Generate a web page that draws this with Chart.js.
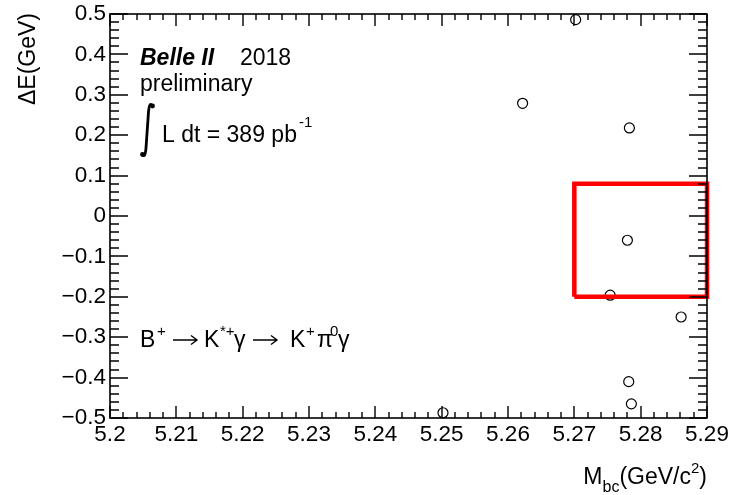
<!DOCTYPE html>
<html>
<head>
<meta charset="utf-8">
<script src="https://cdn.jsdelivr.net/npm/chart.js@4.4.0/dist/chart.umd.min.js"></script>
<style>
html, body { margin: 0; padding: 0; background: #fff; }
#wrap { width: 733px; height: 495px; }
</style>
</head>
<body>
<div id="wrap"><canvas id="chart" width="733" height="495"></canvas></div>
<script>
// candidate events: Mbc vs deltaE
const mbcValues = [5.2702, 5.2622, 5.2783, 5.2780, 5.2754, 5.2861, 5.2782, 5.2786, 5.2502];
const deltaEValues = [0.486, 0.279, 0.218, -0.060, -0.196, -0.250, -0.410, -0.465, -0.487];

// signal box corners
const boxX = [5.27, 5.27, 5.29, 5.29, 5.27];
const boxY = [-0.2, 0.08, 0.08, -0.2, -0.2];

// axis ticks
const xTicks = [5.2, 5.21, 5.22, 5.23, 5.24, 5.25, 5.26, 5.27, 5.28, 5.29];
const xTickLabels = ['5.2', '5.21', '5.22', '5.23', '5.24', '5.25', '5.26', '5.27', '5.28', '5.29'];
const yTicks = [-0.5, -0.4, -0.3, -0.2, -0.1, 0, 0.1, 0.2, 0.3, 0.4, 0.5];
const yTickLabels = ['\u22120.5', '\u22120.4', '\u22120.3', '\u22120.2', '\u22120.1', '0', '0.1', '0.2', '0.3', '0.4', '0.5'];

const FONT = '"Liberation Sans", Arial, Helvetica, sans-serif';
Chart.defaults.font.family = FONT;
Chart.defaults.color = '#000';

function drawParts(ctx, parts, baseline) {
    parts.forEach(p => {
        ctx.font = (p.style || '') + ' ' + p.size + 'px ' + FONT;
        ctx.fillText(p.t, p.x, baseline + (p.dy || 0));
    });
}

function drawArrow(ctx, x1, x2, y) {
    ctx.save();
    ctx.lineWidth = 1.4;
    ctx.lineCap = 'butt';
    ctx.beginPath();
    ctx.moveTo(x1, y);
    ctx.lineTo(x2, y);
    ctx.moveTo(x2 - 6, y - 4.5);
    ctx.lineTo(x2, y);
    ctx.lineTo(x2 - 6, y + 4.5);
    ctx.stroke();
    ctx.restore();
}

// ROOT-like frame, inward ticks and the text labels
const framePlugin = {
    id: 'rootFrame',
    afterDatasetsDraw(chart) {
        const ctx = chart.ctx;
        const a = chart.chartArea;
        const xs = chart.scales.x;
        const ys = chart.scales.y;
        ctx.save();
        ctx.strokeStyle = '#000';
        ctx.lineWidth = 1.6;
        ctx.strokeRect(a.left, a.top, a.right - a.left, a.bottom - a.top);

        ctx.lineWidth = 1.4;
        ctx.beginPath();
        for (let i = 0; i <= 45; i++) {
            const v = 5.2 + i * 0.002;
            const px = Math.round(xs.getPixelForValue(v));
            const len = (i % 5 === 0) ? 12 : 6;
            ctx.moveTo(px, a.bottom);
            ctx.lineTo(px, a.bottom - len);
            ctx.moveTo(px, a.top);
            ctx.lineTo(px, a.top + len);
        }
        for (let i = 0; i <= 50; i++) {
            const v = -0.5 + i * 0.02;
            const py = Math.round(ys.getPixelForValue(v));
            const len = (i % 5 === 0) ? 18 : 9;
            ctx.moveTo(a.left, py);
            ctx.lineTo(a.left + len, py);
            ctx.moveTo(a.right, py);
            ctx.lineTo(a.right - len, py);
        }
        ctx.stroke();

        ctx.fillStyle = '#000';
        ctx.textAlign = 'left';
        ctx.textBaseline = 'alphabetic';

        // Belle II label
        drawParts(ctx, [
            { t: 'Belle II', x: 140, size: 23, style: 'italic bold' },
            { t: '2018', x: 240, size: 23 }
        ], 65);
        drawParts(ctx, [{ t: 'preliminary', x: 140, size: 23 }], 91);

        // integral sign
        ctx.lineWidth = 2.8;
        ctx.lineCap = 'round';
        ctx.beginPath();
        ctx.moveTo(152.5, 106);
        ctx.quadraticCurveTo(149.5, 101, 148.5, 112);
        ctx.lineTo(146, 148);
        ctx.quadraticCurveTo(145, 159, 142.5, 154);
        ctx.stroke();
        ctx.beginPath();
        ctx.arc(152.5, 106, 2.4, 0, Math.PI * 2);
        ctx.fill();
        ctx.beginPath();
        ctx.arc(142.5, 154.5, 2.4, 0, Math.PI * 2);
        ctx.fill();
        drawParts(ctx, [
            { t: 'L dt = 389 pb', x: 162, size: 23 },
            { t: '-1', x: 299, size: 15, dy: -15 }
        ], 142);

        // decay chain
        drawParts(ctx, [
            { t: 'B', x: 140, size: 23 },
            { t: '+', x: 157, size: 15, dy: -11 },
            { t: 'K', x: 204, size: 23 },
            { t: '*+', x: 220, size: 15, dy: -11 },
            { t: '\u03b3', x: 234, size: 23 },
            { t: 'K', x: 290, size: 23 },
            { t: '+', x: 306, size: 15, dy: -11 },
            { t: '\u03c0', x: 317, size: 23 },
            { t: '0', x: 330, size: 15, dy: -11 },
            { t: '\u03b3', x: 338, size: 23 }
        ], 347);
        drawArrow(ctx, 173, 197, 340);
        drawArrow(ctx, 253, 277, 340);

        // x title, right aligned
        ctx.font = '23px ' + FONT;
        const wM = ctx.measureText('M').width;
        const wG = ctx.measureText('(GeV/c').width;
        const wp = ctx.measureText(')').width;
        ctx.font = '16px ' + FONT;
        const wbc = ctx.measureText('bc').width;
        ctx.font = '15px ' + FONT;
        const w2 = ctx.measureText('2').width;
        const tx = 707 - (wM + wbc + wG + w2 + wp);
        drawParts(ctx, [
            { t: 'M', x: tx, size: 23 },
            { t: 'bc', x: tx + wM, size: 16, dy: 8 },
            { t: '(GeV/c', x: tx + wM + wbc, size: 23 },
            { t: '2', x: tx + wM + wbc + wG, size: 15, dy: -11 },
            { t: ')', x: tx + wM + wbc + wG + w2, size: 23 }
        ], 484);

        // y title, rotated, aligned to top
        ctx.translate(35, 13);
        ctx.rotate(-Math.PI / 2);
        ctx.textAlign = 'right';
        ctx.font = '23px ' + FONT;
        ctx.fillText('\u0394E(GeV)', 0, 0);
        ctx.restore();
    }
};

const points = mbcValues.map((x, i) => ({ x: x, y: deltaEValues[i] }));
const boxPoints = boxX.map((x, i) => ({ x: x, y: boxY[i] }));

new Chart(document.getElementById('chart'), {
    type: 'scatter',
    data: {
        datasets: [
            {
                label: 'signal box',
                type: 'line',
                data: boxPoints,
                borderColor: '#ff0000',
                borderWidth: 4.5,
                borderJoinStyle: 'miter',
                pointRadius: 0,
                fill: false,
                tension: 0,
                clip: false
            },
            {
                label: 'candidates',
                data: points,
                pointStyle: 'circle',
                pointRadius: 5,
                pointBorderWidth: 1.2,
                pointBorderColor: '#000',
                pointBackgroundColor: 'rgba(0,0,0,0)',
                clip: false
            }
        ]
    },
    options: {
        responsive: false,
        animation: false,
        devicePixelRatio: 1,
        layout: { padding: { top: 14, right: 26, left: 0, bottom: 0 } },
        plugins: { legend: { display: false }, tooltip: { enabled: false } },
        scales: {
            x: {
                type: 'linear',
                min: 5.2,
                max: 5.29,
                grid: { display: false, drawTicks: false },
                border: { display: false },
                afterBuildTicks: s => { s.ticks = xTicks.map(v => ({ value: v })); },
                afterFit: s => { s.height = 77; },
                ticks: {
                    autoSkip: false,
                    maxRotation: 0,
                    padding: 3,
                    font: { size: 22.5 },
                    color: '#000',
                    callback: (v) => {
                        const i = xTicks.findIndex(t => Math.abs(t - v) < 1e-6);
                        return i >= 0 ? xTickLabels[i] : '';
                    }
                }
            },
            y: {
                type: 'linear',
                min: -0.5,
                max: 0.5,
                grid: { display: false, drawTicks: false },
                border: { display: false },
                afterBuildTicks: s => { s.ticks = yTicks.map(v => ({ value: v })); },
                afterFit: s => { s.width = 110; },
                ticks: {
                    autoSkip: false,
                    padding: 4,
                    font: { size: 22.5, lineHeight: 0.8 },
                    color: '#000',
                    callback: (v) => {
                        const i = yTicks.findIndex(t => Math.abs(t - v) < 1e-6);
                        return i >= 0 ? yTickLabels[i] : '';
                    }
                }
            }
        }
    },
    plugins: [framePlugin]
});
</script>
</body>
</html>
